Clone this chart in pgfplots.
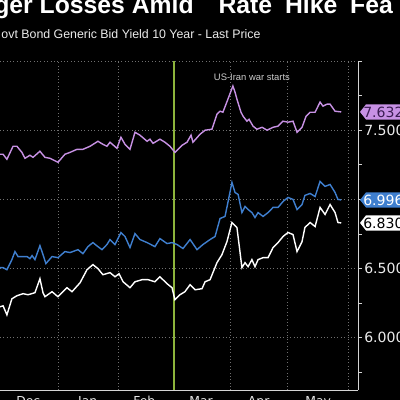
\documentclass[border=0pt]{standalone}
\usepackage{pgfplots}
\pgfplotsset{compat=1.18}
\usepackage{fontspec}
\setmainfont{Liberation Sans}
\newfontfamily\numfont{DejaVu Sans}

\definecolor{lav}{HTML}{C791E4}
\definecolor{bluel}{HTML}{3F7FCF}
\definecolor{warg}{HTML}{8DB43C}
\definecolor{gridc}{HTML}{707070}
\definecolor{axisc}{HTML}{D4D4D4}
\definecolor{lavtxt}{HTML}{3A1C52}

% pointed last-price tag at the right-hand value axis
\newcommand{\pricetag}[3]{%
  \fill[#2] (axis cs:156.25,#1) ++(0.05cm,0cm) -- ++(0.15cm,0.19cm)
     -- ++(2cm,0cm) -- ++(0cm,-0.38cm) -- ++(-2cm,0cm) -- cycle;
  \node[anchor=west, inner sep=0pt, text=#3, font=\numfont\fontsize{10}{12}\selectfont]
     at ([xshift=0.125cm]axis cs:156.25,#1) {#1};
}

\begin{document}
\begin{tikzpicture}
\clip (0,0) rectangle (10cm,10cm);
\fill[black] (0,0) rectangle (10cm,10cm);

% headline and series description
\node[anchor=base west, inner sep=0, text=white,
      font=\bfseries\fontsize{17.6}{20}\selectfont]
  at (-0.15cm,9.66cm) {ger Losses Amid\hspace{0.45cm} Rate\hspace{0.15cm} Hike\hspace{0.15cm} Fea};
\node[anchor=base west, inner sep=0, text=white!92!black,
      font=\fontsize{8.8}{10}\selectfont]
  at (0.03cm,9.04cm) {ovt Bond Generic Bid Yield 10 Year - Last Price};

\begin{axis}[
  at={(0,0.25cm)}, anchor=south west,
  scale only axis, width=8.95cm, height=8.225cm,
  xmin=-30.2, xmax=156.25, ymin=5.623, ymax=8.0,
  axis x line=bottom, axis y line=right,
  axis line style={-, axisc, line width=0.6pt},
  clip=false, no markers,
  % months: labels centred, dotted grid at month starts
  xtick={-15.5,15.5,45,74.5,104.5,135.5},
  xticklabels={Dec,Jan,Feb,Mar,Apr,May},
  minor xtick={0,31.25,60.4,89.6,119.3,151},
  xminorgrids,
  major x tick style={draw=none},
  minor x tick style={draw=none},
  xticklabel style={text=white!90!black, yshift=0.07cm,
                    font=\numfont\fontsize{8.8}{10}\selectfont},
  % yields
  ytick={6,6.5,7,7.5,8},
  yticklabels={6.000,6.500,7.000,7.500,},
  minor ytick={5.75,6.25,6.75,7.25,7.75},
  ymajorgrids,
  tick align=outside,
  major tick length=0.1cm, minor tick length=0.1cm,
  tick style={axisc, line width=0.6pt},
  yticklabel style={text=white!92!black, anchor=west, inner sep=0pt, xshift=0.05cm,
                    font=\numfont\fontsize{10}{12}\selectfont},
  major grid style={gridc, dotted, line width=0.5pt},
  minor grid style={gridc, dotted, line width=0.5pt},
]

% event marker
\addplot[warg, line width=1.4pt] coordinates {(60.4,5.623) (60.4,8.0)};
\node[text=white!80!black, font=\fontsize{6.7}{8}\selectfont]
  at (axis cs:101,7.884) {US-Iran war starts};

% top series
\addplot[lav, line width=1pt] coordinates {
(-30.2,7.326) (-28.6,7.326) (-26.6,7.290) (-23.4,7.384) (-21.4,7.384)
(-18.8,7.340) (-17.2,7.297) (-14.6,7.319) (-13.0,7.304) (-9.4,7.348)
(-6.8,7.304) (-4.2,7.297) (0,7.268) (3.6,7.326) (6.3,7.340) (9.9,7.362)
(13.0,7.362) (16.7,7.384) (20.8,7.420) (23.4,7.398) (25.5,7.384)
(27.1,7.413) (30.7,7.369) (32.8,7.449) (34.9,7.398) (37.5,7.362)
(40.1,7.485) (42.7,7.464) (46.4,7.420) (47.9,7.435) (49.5,7.405)
(53.1,7.435) (55.7,7.413) (58.3,7.384) (60.9,7.340) (64.6,7.391)
(67.2,7.413) (69.3,7.464) (70.3,7.413) (74.0,7.471) (76.6,7.500)
(80.2,7.507) (82.8,7.616) (84.4,7.637) (85.9,7.630) (88.5,7.724)
(91.1,7.819) (92.2,7.775) (93.2,7.724) (95.3,7.630) (96.4,7.601)
(98.4,7.565) (99.5,7.579) (101.6,7.529) (103.6,7.507) (106.3,7.521)
(108.9,7.500) (112.0,7.521) (114.6,7.529) (117.2,7.565) (119.8,7.558)
(122.4,7.565) (124.5,7.485) (127.1,7.521) (129.2,7.601) (131.3,7.630)
(133.9,7.630) (136.5,7.703) (138.0,7.674) (140.1,7.688) (141.7,7.688)
(144.3,7.637) (147.5,7.632)};

% middle series
\addplot[bluel, line width=1pt] coordinates {
(-30.2,6.507) (-28.6,6.507) (-26.6,6.492) (-24.0,6.565) (-22.4,6.623)
(-20.8,6.587) (-18.2,6.587) (-16.1,6.587) (-14.6,6.572) (-13.5,6.594)
(-12.0,6.565) (-9.4,6.666) (-7.8,6.601) (-6.3,6.536) (-3.1,6.587)
(0,6.579) (3.6,6.623) (6.3,6.616) (10.4,6.637) (13.0,6.608) (15.6,6.659)
(18.2,6.688) (20.8,6.659) (22.9,6.637) (25.5,6.674) (27.1,6.710)
(29.7,6.674) (32.8,6.761) (34.9,6.732) (37.5,6.652) (40.1,6.753)
(42.7,6.710) (46.4,6.688) (50.5,6.659) (53.1,6.717) (56.8,6.681)
(59.4,6.688) (62.0,6.674) (65.1,6.645) (68.8,6.710) (72.4,6.637)
(75.5,6.674) (79.2,6.710) (81.8,6.732) (84.4,6.862) (87.0,6.877)
(88.5,6.978) (90.6,7.123) (92.2,7.050) (93.8,7.036) (95.8,6.905)
(97.4,6.949) (99.0,6.927) (101.0,6.905) (102.6,6.869) (104.2,6.905)
(106.8,6.877) (109.4,6.905) (112.0,6.942) (114.6,6.942) (117.2,6.985)
(119.8,7.014) (122.4,7.000) (124.5,6.927) (127.1,6.963) (128.6,7.029)
(131.3,7.043) (133.9,7.021) (136.5,7.130) (139.1,7.094) (141.7,7.108)
(144.3,7.050) (145.8,7.000) (147.5,6.996)};

% bottom series
\addplot[white, line width=1pt] coordinates {
(-30.2,6.224) (-28.6,6.231) (-26.6,6.166) (-24.0,6.282) (-21.4,6.304)
(-18.2,6.319) (-15.6,6.311) (-12.0,6.326) (-9.4,6.427) (-7.8,6.326)
(-6.8,6.297) (-3.1,6.333) (0,6.297) (4.7,6.362) (7.3,6.333) (11.5,6.398)
(15.1,6.492) (18.2,6.529) (20.8,6.500) (23.4,6.456) (27.1,6.471)
(29.7,6.441) (31.8,6.463) (33.9,6.405) (37.5,6.362) (40.1,6.405)
(43.8,6.420) (46.9,6.420) (50.5,6.405) (53.1,6.441) (56.8,6.391)
(59.4,6.362) (60.9,6.275) (63.5,6.311) (66.1,6.333) (68.8,6.384)
(71.4,6.347) (75.0,6.355) (76.6,6.405) (79.2,6.420) (82.8,6.543)
(85.4,6.601) (88.0,6.695) (90.6,6.833) (93.2,6.797) (95.8,6.507)
(97.4,6.543) (99.0,6.514) (101.0,6.565) (102.6,6.514) (104.2,6.565)
(106.8,6.579) (109.4,6.579) (112.0,6.652) (114.6,6.688) (117.2,6.732)
(119.8,6.761) (122.4,6.746) (124.5,6.623) (127.1,6.695) (128.6,6.797)
(131.3,6.833) (133.9,6.804) (136.5,6.942) (139.1,6.891) (141.7,6.963)
(144.3,6.905) (145.8,6.833) (147.5,6.830)};

% last-price tags
\pricetag{7.632}{lav}{lavtxt}
\pricetag{6.996}{bluel}{white}
\pricetag{6.830}{white}{black}
\end{axis}
\end{tikzpicture}
\end{document}
